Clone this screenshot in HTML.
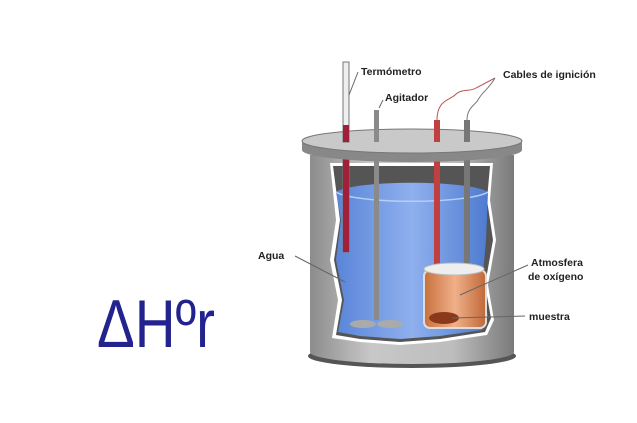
<!DOCTYPE html>
<html><head><meta charset="utf-8"><style>
html,body{margin:0;padding:0;background:#fff;width:637px;height:423px;overflow:hidden}
svg{display:block}
text{font-family:"Liberation Sans",sans-serif}
</style></head><body>
<svg width="637" height="423" viewBox="0 0 637 423" xmlns="http://www.w3.org/2000/svg">
<defs>
<linearGradient id="body" x1="0" x2="1">
<stop offset="0" stop-color="#8c8c8c"/><stop offset="0.3" stop-color="#c8c8c8"/><stop offset="0.7" stop-color="#bdbdbd"/><stop offset="1" stop-color="#7a7a7a"/>
</linearGradient>
<linearGradient id="water" x1="0" x2="1">
<stop offset="0" stop-color="#5a85d8"/><stop offset="0.5" stop-color="#8fb0ee"/><stop offset="1" stop-color="#4f7bd0"/>
</linearGradient>
<linearGradient id="cup" x1="0" x2="1">
<stop offset="0" stop-color="#c8703c"/><stop offset="0.5" stop-color="#f0b08a"/><stop offset="1" stop-color="#c06838"/>
</linearGradient>
</defs>
<text x="97" y="347" font-size="68" fill="#23238f" textLength="118" lengthAdjust="spacingAndGlyphs">ΔHºr</text>
<!-- bottom shadow -->
<ellipse cx="412" cy="356" rx="104" ry="12" fill="#555"/>
<!-- body -->
<path d="M310 155 L310 352 A102 12 0 0 0 514 352 L514 155 Z" fill="url(#body)"/>
<!-- cutout interior -->
<path d="M330 163 L493 163 L490 200 L496 240 L488 285 L494 320 L487 335 L440 342 L400 345 L360 342 L332 338 L338 300 L330 260 L336 220 Z" fill="#fff"/>
<path d="M333 166 L490 166 L487 200 L493 240 L485 285 L491 318 L485 332 L440 339 L400 342 L360 339 L336 335 L342 300 L334 260 L340 220 Z" fill="#555"/>
<path d="M336 192 A78 12 0 0 1 488 192 L486 240 L482 285 L488 316 L482 330 L440 336 L400 339 L360 336 L338 332 L344 300 L336 260 L341 220 Z" fill="url(#water)"/>
<path d="M336 192 A78 12 0 0 0 488 192" fill="none" stroke="#b8cff5" stroke-width="1.5"/>
<!-- rods -->
<rect x="343" y="62" width="6" height="190" fill="#eee" stroke="#777" stroke-width="1"/>
<rect x="343" y="125" width="6" height="127" fill="#a0203a"/>
<rect x="374" y="110" width="5" height="210" fill="#8a8a8a"/>
<ellipse cx="363" cy="324" rx="13" ry="4" fill="#aaa"/><ellipse cx="390" cy="324" rx="13" ry="4" fill="#aaa"/>
<rect x="434" y="120" width="6" height="148" fill="#c04040"/>
<rect x="464" y="120" width="6" height="148" fill="#777"/>
<!-- cup -->
<rect x="424" y="270" width="62" height="58" rx="6" fill="url(#cup)" stroke="#ddd" stroke-width="2"/>
<ellipse cx="454" cy="269" rx="30" ry="6" fill="#eee" stroke="#bbb"/>
<ellipse cx="444" cy="318" rx="15" ry="6" fill="#8a3a1a"/>
<!-- lid -->
<path d="M302 141 L302 150 A110 12 0 0 0 522 150 L522 141 Z" fill="#888"/>
<ellipse cx="412" cy="141" rx="110" ry="12" fill="#c9c9c9" stroke="#777"/>
<rect x="343" y="62" width="6" height="80" fill="#eee" stroke="#777" stroke-width="1"/>
<rect x="343" y="125" width="6" height="17" fill="#a0203a"/>
<rect x="374" y="110" width="5" height="32" fill="#8a8a8a"/>
<rect x="434" y="120" width="6" height="22" fill="#c04040"/>
<rect x="464" y="120" width="6" height="22" fill="#777"/>
<!-- wires -->
<path d="M437 120 C437 100 450 100 455 95 C462 88 470 92 476 88 L495 78" fill="none" stroke="#c05050" stroke-width="1"/>
<path d="M467 120 C467 108 475 105 478 100 C482 92 488 90 495 78" fill="none" stroke="#777" stroke-width="1"/>
<!-- leaders -->
<g stroke="#666" stroke-width="1" fill="none">
<line x1="349" y1="95" x2="358" y2="72"/>
<line x1="379" y1="108" x2="383" y2="100"/>
<line x1="295" y1="256" x2="345" y2="282"/>
<line x1="528" y1="265" x2="460" y2="295"/>
<line x1="525" y1="316" x2="452" y2="318"/>
</g>
<g font-size="10.5" font-weight="bold" fill="#222">
<text x="361" y="75">Termómetro</text>
<text x="385" y="101">Agitador</text>
<text x="503" y="78">Cables de ignición</text>
<text x="258" y="259">Agua</text>
<text x="531" y="266">Atmosfera</text>
<text x="528" y="280">de oxígeno</text>
<text x="529" y="320">muestra</text>
</g>
</svg>
</body></html>
